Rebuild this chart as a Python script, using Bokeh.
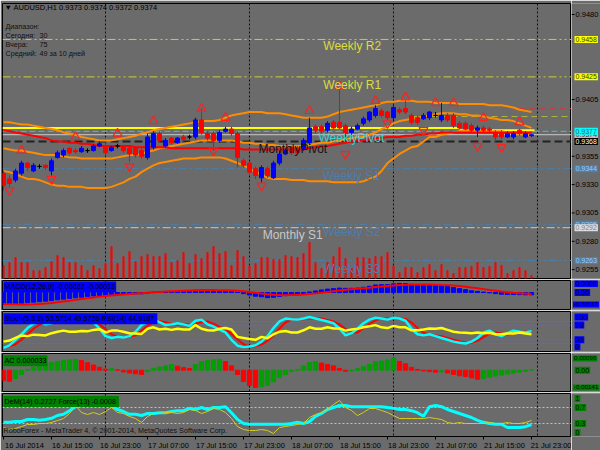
from bokeh.plotting import figure
from bokeh.layouts import column, row
from bokeh.models import Range1d, FixedTicker, Span, Label, ColumnDataSource
from bokeh.embed import file_html
from bokeh.resources import INLINE

FONT = "Liberation Sans"
BG = "#6b6b6b"

# ---------------- data ----------------
time_labels = ["16 Jul 2014", "16 Jul 15:00", "16 Jul 23:00", "17 Jul 07:00", "17 Jul 15:00",
               "17 Jul 23:00", "18 Jul 07:00", "18 Jul 15:00", "18 Jul 23:00", "21 Jul 07:00",
               "21 Jul 15:00", "21 Jul 23:00"]
time_label_bars = [0, 8, 16, 24, 32, 40, 48, 56, 64, 72, 80, 88]
day_start_bars = [17, 41, 65, 89]

open_ = [0.9340, 0.9335, 0.9334, 0.9340, 0.9349, 0.9342, 0.9346, 0.9347, 0.9342, 0.9354,
         0.9356, 0.9362, 0.9360, 0.9359, 0.9360, 0.9360, 0.9364, 0.9364, 0.9360, 0.9364,
         0.9364, 0.9362, 0.9362, 0.9360, 0.9354, 0.9363, 0.9375, 0.9364, 0.9371, 0.9367,
         0.9372, 0.9372, 0.9372, 0.9387, 0.9375, 0.9375, 0.9369, 0.9377, 0.9379, 0.9375,
         0.9351, 0.9349, 0.9344, 0.9336, 0.9344, 0.9336, 0.9349, 0.9357, 0.9363, 0.9362,
         0.9362, 0.9367, 0.9381, 0.9381, 0.9378, 0.9385, 0.9385, 0.9382, 0.9376, 0.9379,
         0.9384, 0.9387, 0.9391, 0.9395, 0.9394, 0.9389, 0.9396, 0.9397, 0.9391, 0.9389,
         0.9388, 0.9389, 0.9391, 0.9387, 0.9391, 0.9391, 0.9384, 0.9384, 0.9382, 0.9378,
         0.9380, 0.9379, 0.9376, 0.9376, 0.9372, 0.9372, 0.9378, 0.9372, 0.9373]
close = [0.9329, 0.9331, 0.9342, 0.9349, 0.9345, 0.9347, 0.9346, 0.9345, 0.9351, 0.9358,
         0.9360, 0.9358, 0.9359, 0.9362, 0.9360, 0.9364, 0.9366, 0.9358, 0.9363, 0.9364,
         0.9360, 0.9357, 0.9356, 0.9355, 0.9372, 0.9375, 0.9369, 0.9369, 0.9367, 0.9371,
         0.9370, 0.9372, 0.9387, 0.9376, 0.9371, 0.9369, 0.9376, 0.9379, 0.9375, 0.9354,
         0.9347, 0.9341, 0.9338, 0.9345, 0.9338, 0.9349, 0.9357, 0.9360, 0.9358, 0.9358,
         0.9369, 0.9380, 0.9378, 0.9377, 0.9384, 0.9380, 0.9380, 0.9375, 0.9379, 0.9382,
         0.9388, 0.9394, 0.9397, 0.9391, 0.9389, 0.9398, 0.9394, 0.9394, 0.9385, 0.9385,
         0.9391, 0.9394, 0.9391, 0.9391, 0.9387, 0.9382, 0.9380, 0.9379, 0.9378, 0.9380,
         0.9378, 0.9378, 0.9372, 0.9372, 0.9375, 0.9375, 0.9375, 0.9375, 0.9374]
high = [0.9342, 0.9338, 0.9344, 0.9351, 0.9350, 0.9349, 0.9348, 0.9348, 0.9353, 0.9360,
        0.9362, 0.9363, 0.9362, 0.9364, 0.9362, 0.9366, 0.9368, 0.9366, 0.9364, 0.9366,
        0.9365, 0.9364, 0.9364, 0.9362, 0.9375, 0.9377, 0.9377, 0.9371, 0.9372, 0.9372,
        0.9374, 0.9374, 0.9389, 0.9397, 0.9377, 0.9377, 0.9378, 0.9381, 0.9381, 0.9377,
        0.9353, 0.9350, 0.9346, 0.9347, 0.9346, 0.9351, 0.9360, 0.9362, 0.9364, 0.9364,
        0.9371, 0.9389, 0.9383, 0.9383, 0.9386, 0.9387, 0.9415, 0.9384, 0.9381, 0.9384,
        0.9390, 0.9395, 0.9400, 0.9397, 0.9395, 0.9401, 0.9398, 0.9404, 0.9393, 0.9391,
        0.9393, 0.9395, 0.9394, 0.9402, 0.9393, 0.9393, 0.9386, 0.9386, 0.9384, 0.9382,
        0.9382, 0.9381, 0.9378, 0.9378, 0.9377, 0.9377, 0.9379, 0.9377, 0.9374]
low = [0.9325, 0.9327, 0.9332, 0.9338, 0.9342, 0.9341, 0.9344, 0.9343, 0.9338, 0.9353,
       0.9354, 0.9356, 0.9357, 0.9358, 0.9358, 0.9359, 0.9363, 0.9356, 0.9359, 0.9362,
       0.9358, 0.9350, 0.9354, 0.9353, 0.9352, 0.9361, 0.9367, 0.9363, 0.9365, 0.9366,
       0.9368, 0.9370, 0.9370, 0.9374, 0.9369, 0.9360, 0.9367, 0.9376, 0.9373, 0.9345,
       0.9345, 0.9339, 0.9335, 0.9332, 0.9336, 0.9335, 0.9347, 0.9356, 0.9356, 0.9357,
       0.9360, 0.9365, 0.9375, 0.9375, 0.9376, 0.9379, 0.9379, 0.9369, 0.9374, 0.9378,
       0.9382, 0.9385, 0.9389, 0.9389, 0.9387, 0.9387, 0.9392, 0.9392, 0.9383, 0.9383,
       0.9387, 0.9387, 0.9389, 0.9385, 0.9385, 0.9380, 0.9379, 0.9378, 0.9376, 0.9372,
       0.9376, 0.9376, 0.9368, 0.9370, 0.9371, 0.9370, 0.9373, 0.9371, 0.9372]
volume = [325, 400, 525, 400, 400, 200, 200, 275, 425, 575,
          525, 400, 400, 325, 200, 325, 250, 375, 800, 375,
          550, 675, 425, 550, 600, 550, 550, 625, 400, 450,
          650, 375, 600, 500, 650, 800, 625, 675, 325, 700,
          550, 325, 375, 525, 525, 475, 475, 575, 550, 525,
          625, 900, 400, 250, 400, 550, 775, 500, 275, 525,
          525, 500, 550, 550, 650, 325, 150, 275, 275, 150,
          275, 350, 200, 350, 200, 125, 275, 275, 300, 400,
          275, 300, 400, 325, 125, 200, 275, 200, 75]
band_upper = [0.9385, 0.9385, 0.9384, 0.9383, 0.9383, 0.9382, 0.9381, 0.9380, 0.9379, 0.9378,
              0.9376, 0.9375, 0.9374, 0.9372, 0.9371, 0.9370, 0.9369, 0.9369, 0.9369, 0.9370,
              0.9371, 0.9372, 0.9373, 0.9375, 0.9376, 0.9378, 0.9379, 0.9380, 0.9381, 0.9382,
              0.9383, 0.9384, 0.9385, 0.9386, 0.9386, 0.9386, 0.9387, 0.9389, 0.9391, 0.9392,
              0.9393, 0.9394, 0.9394, 0.9394, 0.9393, 0.9393, 0.9393, 0.9392, 0.9391, 0.9390,
              0.9389, 0.9389, 0.9389, 0.9389, 0.9390, 0.9392, 0.9394, 0.9395, 0.9396, 0.9397,
              0.9398, 0.9399, 0.9400, 0.9402, 0.9403, 0.9403, 0.9404, 0.9404, 0.9404, 0.9403,
              0.9403, 0.9403, 0.9402, 0.9402, 0.9402, 0.9402, 0.9401, 0.9401, 0.9401, 0.9401,
              0.9401, 0.9400, 0.9400, 0.9400, 0.9399, 0.9398, 0.9396, 0.9395, 0.9394]
band_middle = [0.9362, 0.9361, 0.9360, 0.9360, 0.9359, 0.9358, 0.9357, 0.9356, 0.9356, 0.9356,
               0.9355, 0.9354, 0.9354, 0.9353, 0.9353, 0.9353, 0.9353, 0.9353, 0.9353, 0.9354,
               0.9355, 0.9356, 0.9356, 0.9357, 0.9359, 0.9360, 0.9362, 0.9363, 0.9364, 0.9365,
               0.9366, 0.9367, 0.9368, 0.9369, 0.9369, 0.9369, 0.9369, 0.9369, 0.9369, 0.9368,
               0.9367, 0.9367, 0.9366, 0.9366, 0.9365, 0.9365, 0.9364, 0.9364, 0.9364, 0.9364,
               0.9364, 0.9365, 0.9366, 0.9367, 0.9367, 0.9368, 0.9369, 0.9370, 0.9371, 0.9372,
               0.9372, 0.9374, 0.9376, 0.9379, 0.9381, 0.9384, 0.9386, 0.9387, 0.9388, 0.9389,
               0.9390, 0.9391, 0.9392, 0.9393, 0.9393, 0.9393, 0.9392, 0.9392, 0.9391, 0.9391,
               0.9390, 0.9389, 0.9388, 0.9387, 0.9387, 0.9386, 0.9384, 0.9382, 0.9380]
band_lower = [0.9342, 0.9341, 0.9339, 0.9337, 0.9335, 0.9335, 0.9334, 0.9332, 0.9330, 0.9329,
              0.9329, 0.9328, 0.9328, 0.9328, 0.9327, 0.9327, 0.9327, 0.9327, 0.9328, 0.9330,
              0.9332, 0.9335, 0.9337, 0.9341, 0.9344, 0.9347, 0.9349, 0.9350, 0.9351, 0.9352,
              0.9353, 0.9353, 0.9353, 0.9354, 0.9354, 0.9354, 0.9354, 0.9353, 0.9351, 0.9349,
              0.9347, 0.9344, 0.9341, 0.9339, 0.9336, 0.9335, 0.9335, 0.9335, 0.9334, 0.9334,
              0.9334, 0.9333, 0.9333, 0.9333, 0.9333, 0.9332, 0.9332, 0.9332, 0.9332, 0.9332,
              0.9333, 0.9335, 0.9337, 0.9342, 0.9349, 0.9353, 0.9357, 0.9360, 0.9363, 0.9364,
              0.9368, 0.9372, 0.9372, 0.9374, 0.9375, 0.9376, 0.9377, 0.9378, 0.9378, 0.9378,
              0.9378, 0.9377, 0.9377, 0.9377, 0.9376, 0.9375, 0.9375, 0.9374, 0.9373]
ma_red = [0.9378, 0.9377, 0.9376, 0.9375, 0.9374, 0.9373, 0.9372, 0.9371, 0.9369, 0.9368,
          0.9368, 0.9367, 0.9367, 0.9366, 0.9366, 0.9365, 0.9364, 0.9364, 0.9364, 0.9364,
          0.9364, 0.9364, 0.9363, 0.9363, 0.9363, 0.9363, 0.9363, 0.9363, 0.9362, 0.9362,
          0.9362, 0.9362, 0.9362, 0.9362, 0.9362, 0.9362, 0.9362, 0.9362, 0.9362, 0.9362,
          0.9361, 0.9361, 0.9361, 0.9361, 0.9361, 0.9361, 0.9361, 0.9361, 0.9361, 0.9361,
          0.9361, 0.9362, 0.9363, 0.9364, 0.9364, 0.9365, 0.9366, 0.9367, 0.9368, 0.9369,
          0.9369, 0.9370, 0.9371, 0.9371, 0.9372, 0.9372, 0.9372, 0.9373, 0.9373, 0.9374,
          0.9374, 0.9375, 0.9375, 0.9376, 0.9376, 0.9376, 0.9376, 0.9376, 0.9376, 0.9376,
          0.9376, 0.9376, 0.9376, 0.9376, 0.9376, 0.9376, 0.9376, 0.9376, 0.9376]
fractal_up_bar = [3, 12, 19, 25, 33, 37, 51, 56, 62, 67, 72, 75, 80, 86]
fractal_up_price = [0.9360, 0.9372, 0.9375, 0.9386, 0.9397, 0.9389, 0.9395, 0.9417, 0.9404,
                    0.9407, 0.9402, 0.9402, 0.9389, 0.9385]
fractal_dn_bar = [1, 8, 21, 35, 43, 57, 64, 70, 79, 83]
fractal_dn_price = [0.9325, 0.9335, 0.9346, 0.9360, 0.9329, 0.9357, 0.9384, 0.9378, 0.9364, 0.9363]

level_price = [0.9458, 0.9425, 0.9377, 0.9374, 0.9368, 0.9344, 0.9295, 0.9292, 0.9263]
part_price = [0.9397, 0.9390, 0.9380, 0.9378]
part_from = [86, 68, -0.17, 76]
part_to = [94.67, 94.67, 76, 88.5]
price_ticks = [0.9255, 0.9280, 0.9305, 0.9330, 0.9355, 0.9405, 0.9480]

macd_main = [-0.00115, -0.00112, -0.00110, -0.00105, -0.00100, -0.00095,
             -0.00090, -0.00085, -0.00080, -0.00072, -0.00065, -0.00058,
             -0.00052, -0.00046, -0.00040, -0.00034, -0.00028, -0.00024,
             -0.00020, -0.00016, -0.00013, -0.00012, -0.00012, -0.00012,
             -0.00005, 0.00004, 0.00006, 0.00008, 0.00009, 0.00010,
             0.00011, 0.00012, 0.00022, 0.00025, 0.00022, 0.00018,
             0.00018, 0.00018, 0.00016, 0.00002, -0.00010, -0.00024,
             -0.00036, -0.00042, -0.00050, -0.00046, -0.00038, -0.00030,
             -0.00024, -0.00018, -0.00008, 0.00006, 0.00016, 0.00026,
             0.00034, 0.00039, 0.00044, 0.00042, 0.00042, 0.00044,
             0.00052, 0.00062, 0.00075, 0.00078, 0.00078, 0.00086,
             0.00090, 0.00089, 0.00081, 0.00073, 0.00070, 0.00070,
             0.00068, 0.00065, 0.00060, 0.00049, 0.00039, 0.00029,
             0.00018, 0.00012, 0.00005, -0.00002, -0.00010, -0.00016,
             -0.00018, -0.00020, -0.00020, -0.00022, -0.00022]
macd_signal = [-0.00112, -0.00114, -0.00116, -0.00117, -0.00117, -0.00115,
               -0.00112, -0.00108, -0.00103, -0.00096, -0.00088, -0.00080,
               -0.00072, -0.00064, -0.00056, -0.00048, -0.00040, -0.00034,
               -0.00028, -0.00023, -0.00018, -0.00014, -0.00010, -0.00006,
               -0.00002, 0.00002, 0.00006, 0.00010, 0.00013, 0.00016,
               0.00018, 0.00020, 0.00022, 0.00024, 0.00025, 0.00025,
               0.00024, 0.00023, 0.00021, 0.00018, 0.00013, 0.00006,
               -0.00002, -0.00010, -0.00017, -0.00022, -0.00025, -0.00026,
               -0.00025, -0.00023, -0.00019, -0.00014, -0.00008, -0.00002,
               0.00005, 0.00013, 0.00021, 0.00027, 0.00033, 0.00038,
               0.00043, 0.00048, 0.00055, 0.00060, 0.00065, 0.00070,
               0.00074, 0.00078, 0.00079, 0.00080, 0.00080, 0.00079,
               0.00078, 0.00075, 0.00073, 0.00069, 0.00064, 0.00057,
               0.00049, 0.00042, 0.00034, 0.00026, 0.00018, 0.00010,
               0.00004, -0.00002, -0.00006, -0.00010, -0.00013]
stoch_main = [8, 15, 30, 45, 62, 74, 78, 72, 75,
              80, 85, 82, 80, 78, 80, 78, 60, 40,
              35, 38, 36, 40, 52, 70, 80, 85, 78,
              70, 72, 75, 72, 68, 82, 85, 72, 66,
              58, 50, 30, 14, 10, 12, 15, 25, 40,
              62, 80, 88, 86, 85, 88, 92, 88, 84,
              80, 75, 60, 42, 48, 60, 75, 85, 90,
              88, 85, 90, 88, 82, 60, 45, 42, 45,
              40, 35, 30, 25, 22, 20, 25, 35, 50,
              55, 45, 40, 48, 55, 52, 50, 53.5714]
stoch_signal = [12, 12, 18, 30, 45, 60, 71, 75, 75,
                76, 80, 82, 82, 80, 79, 79, 72, 59,
                45, 38, 36, 38, 42, 54, 68, 78, 81,
                78, 73, 72, 73, 72, 74, 78, 80, 74,
                65, 58, 46, 31, 18, 12, 12, 17, 27,
                42, 61, 77, 85, 86, 86, 88, 89, 88,
                84, 80, 72, 59, 50, 50, 61, 73, 83,
                88, 88, 88, 88, 87, 77, 62, 49, 44,
                42, 40, 35, 30, 26, 22, 22, 27, 37,
                47, 50, 47, 44, 48, 51, 52, 49.6726]
rsi = [25, 28, 35, 42, 40, 44, 43, 42, 48,
       52, 55, 52, 52, 54, 53, 57, 59, 50,
       55, 55, 52, 48, 47, 46, 60, 64, 58,
       60, 57, 60, 58, 58, 70, 60, 56, 55,
       60, 62, 58, 38, 35, 32, 30, 38, 34,
       45, 52, 54, 50, 50, 56, 64, 60, 60,
       64, 61, 61, 55, 58, 60, 64, 67, 70,
       64, 62, 68, 64, 64, 56, 56, 58, 61,
       60, 62, 57, 52, 50, 49, 48, 50, 48,
       49, 45, 45, 47, 47, 50, 47, 44.9187]
ac = [-0.00085, -0.00090, -0.00068, -0.00035, 0.00006, 0.00023, 0.00040, 0.00052, 0.00063, 0.00072,
      0.00080, 0.00084, 0.00088, 0.00078, 0.00060, 0.00042, 0.00024, 0.00009, 0.00012, 0.00002,
      -0.00014, -0.00023, -0.00030, -0.00035, -0.00012, 0.00014, 0.00026, 0.00035, 0.00046, 0.00033,
      0.00021, 0.00014, 0.00046, 0.00070, 0.00078, 0.00084, 0.00088, 0.00070, 0.00035, -0.00035,
      -0.00092, -0.00125, -0.00141, -0.00136, -0.00125, -0.00095, -0.00062, -0.00035, -0.00012, 0.00006,
      0.00035, 0.00063, 0.00069, 0.00058, 0.00046, 0.00035, 0.00014, -0.00009, -0.00006, 0.00012,
      0.00029, 0.00046, 0.00069, 0.00075, 0.00083, 0.00096, 0.00072, 0.00052, 0.00023, 0.00006,
      -0.00006, -0.00012, -0.00017, -0.00014, -0.00023, -0.00035, -0.00046, -0.00052, -0.00063, -0.00075,
      -0.00068, -0.00058, -0.00048, -0.00040, -0.00032, -0.00024, -0.00016, -0.00008, 0.000033]
dem = [0.33, 0.33, 0.35, 0.35, 0.40, 0.40, 0.38, 0.40, 0.43, 0.50,
       0.53, 0.62, 0.72, 0.75, 0.75, 0.75, 0.75, 0.75, 0.75, 0.65,
       0.60, 0.53, 0.53, 0.50, 0.55, 0.55, 0.57, 0.57, 0.60, 0.62,
       0.62, 0.68, 0.65, 0.70, 0.65, 0.70, 0.70, 0.72, 0.57, 0.40,
       0.30, 0.28, 0.28, 0.28, 0.28, 0.28, 0.28, 0.28, 0.30, 0.33,
       0.30, 0.35, 0.48, 0.55, 0.65, 0.70, 0.75, 0.75, 0.72, 0.72,
       0.72, 0.72, 0.72, 0.72, 0.70, 0.68, 0.65, 0.65, 0.62, 0.57,
       0.48, 0.72, 0.75, 0.72, 0.65, 0.60, 0.55, 0.50, 0.45, 0.38,
       0.33, 0.30, 0.28, 0.28, 0.20, 0.20, 0.20, 0.22, 0.2727]
force = [-0.0015, -0.0017, -0.0016, -0.0014, -0.0012, -0.0012, -0.0011, -0.0011, -0.0010, -0.0008,
         -0.0006, -0.0001, 0.0007, 0.0000, -0.0002, 0.0000, -0.0002, 0.0001, 0.0005, 0.0000,
         -0.0001, -0.0004, -0.0006, -0.0010, -0.0004, -0.0001, -0.0001, 0.0000, 0.0000, -0.0001,
         0.0000, 0.0003, 0.0002, -0.0001, 0.0001, 0.0004, 0.0003, 0.0000, -0.0006, -0.0014,
         -0.0017, -0.0018, -0.0018, -0.0017, -0.0018, -0.0021, -0.0015, -0.0014, -0.0013, -0.0012,
         -0.0011, -0.0005, -0.0002, 0.0000, 0.0003, 0.0008, 0.0012, 0.0005, 0.0002, -0.0003,
         0.0000, 0.0004, 0.0004, 0.0002, 0.0000, -0.0003, -0.0006, -0.0006, -0.0006, -0.0006,
         -0.0006, -0.0005, -0.0006, -0.0007, -0.0010, -0.0011, -0.0010, -0.0011, -0.0011, -0.0011,
         -0.0011, -0.0010, -0.0011, -0.0011, -0.0010, -0.0011, -0.0011, -0.0010, -0.0008]

n = len(close)
idx = list(range(n))

X_RANGE = Range1d(-0.1667, 94.667)
FRAME_W = 569
STRIP_W = 29


def panel(frame_h, yr, top, bottom, x_axis=False):
    p = figure(frame_width=FRAME_W, frame_height=frame_h, x_range=X_RANGE, y_range=yr,
               output_backend="svg", toolbar_location=None,
               x_axis_location="below" if x_axis else None, y_axis_location=None,
               min_border_left=2, min_border_right=0, min_border_top=top, min_border_bottom=bottom,
               background_fill_color=BG, border_fill_color=BG,
               outline_line_color="#000000", outline_line_width=1)
    p.grid.visible = False
    for d in day_start_bars:
        p.add_layout(Span(location=d, dimension="height", line_color="#111111",
                          line_dash="2 2", line_width=1, level="underlay"))
    return p


def strip(frame_h, yr, top, bottom):
    s = figure(frame_width=STRIP_W, frame_height=frame_h, x_range=Range1d(0, STRIP_W), y_range=yr,
               output_backend="svg", toolbar_location=None,
               x_axis_location=None, y_axis_location=None,
               min_border_left=0, min_border_right=0, min_border_top=top, min_border_bottom=bottom,
               background_fill_color=BG, border_fill_color=BG, outline_line_color=None)
    s.grid.visible = False
    return s


def box(s, y, text, bg, fg, y_off=0):
    long_txt = len(text) >= 7
    s.add_layout(Label(x=1.5 if long_txt else 3, y=y, y_offset=y_off, text=text, text_font=FONT,
                       text_font_size="6.2px" if long_txt else "7px", text_color=fg,
                       text_align="left", text_baseline="middle",
                       background_fill_color=bg, padding=1))


def txt(p, x, y, text, color, size="7.2px", bg=None, baseline="middle"):
    kw = dict(background_fill_color=bg, padding=1) if bg else {}
    p.add_layout(Label(x=x, y=y, text=text, text_font=FONT, text_font_size=size,
                       text_color=color, text_align="left", text_baseline=baseline, **kw))


# ---------------- main price panel ----------------
yr_main = Range1d(0.92472, 0.94897)
pm = panel(275, yr_main, 3, 1)
sm = strip(275, yr_main, 3, 1)

pm.extra_y_ranges = {"vol": Range1d(0, 6875)}
pm.vbar(x=idx, top=volume, width=0.18, y_range_name="vol", color="#ff0000")

level_style = [("#cccc33", "8 3 2 3 2 3", 1), ("#cccc33", "8 3 2 3 2 3", 1),
               ("#3cc8c8", "6 3", 1), ("#c8c8c8", "solid", 1), ("#222222", "8 4", 2),
               ("#4682b4", "8 3 2 3", 1), ("#4682b4", "8 3 2 3 2 3", 1),
               ("#c8c8c8", "8 3 2 3", 1), ("#4682b4", "8 3 2 3 2 3", 1)]
for lv, (col, dash, w) in zip(level_price, level_style):
    pm.add_layout(Span(location=lv, dimension="width", line_color=col, line_dash=dash,
                       line_width=w, level="underlay"))

part_style = [("#c83c3c", "6 4", 1), ("#b4b43c", "6 4", 1), ("#ffff00", "solid", 2), ("#ffff00", "solid", 2)]
for pr, a, b, (col, dash, w) in zip(part_price, part_from, part_to, part_style):
    pm.line(x=[a, b], y=[pr, pr], line_color=col, line_dash=dash, line_width=w)

pm.line(idx, band_upper, line_color="#ff8c00", line_width=2)
pm.line(idx, band_middle, line_color="#ff8c00", line_width=2)
pm.line(idx, band_lower, line_color="#ff8c00", line_width=2)
pm.line(idx, ma_red, line_color="#ff0000", line_width=2)

cols = ["#0000ff" if c > o else ("#ff0000" if c < o else "#000000") for o, c in zip(open_, close)]
src = ColumnDataSource(dict(x=idx, h=high, l=low,
                            top=[max(o, c) for o, c in zip(open_, close)],
                            bottom=[min(o, c) for o, c in zip(open_, close)], color=cols))
pm.segment(x0="x", y0="l", x1="x", y1="h", line_color="color", line_width=1, source=src)
pm.vbar(x="x", width=0.65, top="top", bottom="bottom", fill_color="color", line_color="color", source=src)

pm.scatter(fractal_up_bar, fractal_up_price, marker="triangle", size=9, line_color="#ff2020",
           fill_color=None, line_width=1.2)
pm.scatter(fractal_dn_bar, fractal_dn_price, marker="inverted_triangle", size=9, line_color="#ff2020",
           fill_color=None, line_width=1.2)

txt(pm, 53.3, 0.9452, "Weekly R2", "#dcdc3c", "12px")
txt(pm, 53.3, 0.9418, "Weekly R1", "#dcdc3c", "12px")
txt(pm, 52.5, 0.9371, "WeeklyPivot", "#3cd2d2", "12px")
txt(pm, 42.5, 0.9361, "MonthlyPivot", "#141414", "12px")
txt(pm, 53.2, 0.9338, "Weekly S1", "#4a7eb0", "12px")
txt(pm, 43.2, 0.9286, "Monthly S1", "#c8c8c8", "12px")
txt(pm, 53.3, 0.9288, "Weekly S2", "#4a7eb0", "12px")
txt(pm, 53.3, 0.9256, "Weekly S3", "#4a7eb0", "12px")

txt(pm, 0.17, 0.94862, "\u25bc  AUDUSD,H1  0.9373 0.9374 0.9372 0.9374", "#000000", "7.5px")
txt(pm, 0.33, 0.94694, "Диапазон:", "#101010")
txt(pm, 0.33, 0.94615, "Сегодня:", "#101010")
txt(pm, 6.0, 0.94615, "30", "#101010")
txt(pm, 0.33, 0.94535, "Вчера:", "#101010")
txt(pm, 6.0, 0.94535, "75", "#101010")
txt(pm, 0.33, 0.94456, "Средний:", "#101010")
txt(pm, 6.0, 0.94456, "49 за 10 дней", "#101010")

# price scale strip
sm.segment(x0=0, x1=3, y0=price_ticks, y1=price_ticks, line_color="#000000", line_width=1)
for t in price_ticks:
    sm.add_layout(Label(x=4, y=t, text=f"{t:.4f}", text_font=FONT, text_font_size="7.5px",
                        text_color="#000000", text_align="left", text_baseline="middle"))
box(sm, 0.9458, "0.9458", "#ffff00", "#404000")
box(sm, 0.9425, "0.9425", "#ffff00", "#404000")
box(sm, 0.9374, "0.9374", "#c0c0c0", "#404040")
box(sm, 0.9377, "0.9377", "#00ffff", "#306060")
box(sm, 0.9368, "0.9368", "#000000", "#ffffff")
box(sm, 0.9344, "0.9344", "#4682b4", "#a8c8e8")
box(sm, 0.9295, "0.9295", "#4682b4", "#a8c8e8")
box(sm, 0.9292, "0.9292", "#dcdcdc", "#808080")
box(sm, 0.9263, "0.9263", "#4682b4", "#a8c8e8")

# ---------------- MACD ----------------
yr_macd = Range1d(-0.00167, 0.00119)
pmacd = panel(29, yr_macd, 1, 1)
smacd = strip(29, yr_macd, 1, 1)
pmacd.vbar(x=idx, top=macd_main, width=0.7, color="#0000ff")
pmacd.line(idx, macd_signal, line_color="#ff0000", line_width=2)
txt(pmacd, 0.0, 0.00110, "MACD(12,26,9) -0.00022 -0.00013", "#000000", "7.2px", bg="#0000ff", baseline="top")
box(smacd, 0.0009, "0.0009", "#0000ff", "#000030")
box(smacd, 0.0, "0.00", "#0000ff", "#000030")
box(smacd, -0.00117, "-0.00117", "#0000ff", "#000030")

# ---------------- Stoch / RSI ----------------
yr_st = Range1d(-1.9, 107.1)
pst = panel(40, yr_st, 1, 1)
sst = strip(40, yr_st, 1, 1)
for lv in [80, 70, 30, 20]:
    pst.add_layout(Span(location=lv, dimension="width", line_color="#6464ff", line_dash="1 2",
                        line_width=1, level="underlay"))
pst.line(idx, stoch_signal, line_color="#ff0000", line_width=2)
pst.line(idx, stoch_main, line_color="#00ffff", line_width=2.5)
pst.line(idx, rsi, line_color="#ffff00", line_width=2.5)
txt(pst, 0.0, 102, "Stoch(5,3,3) 53.5714 49.6726  RSI(14) 44.9187", "#000000", "7.2px", bg="#0000ff", baseline="top")
box(sst, 100, "100", "#0000ff", "#000030", y_off=-3)
box(sst, 70, "70", "#0000ff", "#000030")
box(sst, 30, "30", "#0000ff", "#000030")
box(sst, 0, "0", "#0000ff", "#000030", y_off=4)

# ---------------- AC ----------------
yr_ac = Range1d(-0.00174, 0.00136)
pac = panel(38, yr_ac, 1, 1)
sac = strip(38, yr_ac, 1, 1)
ac_cols = ["#ff0000"] + ["#00a000" if ac[i] > ac[i - 1] else "#ff0000" for i in range(1, n)]
pac.vbar(x=idx, top=ac, width=0.7, color=ac_cols)
txt(pac, 0.0, 0.00121, "AC 0.000033", "#000000", "7.2px", bg="#008000", baseline="top")
box(sac, 0.00096, "0.00096", "#008000", "#001000")
box(sac, 0.0, "0.00", "#008000", "#001000")
box(sac, -0.00141, "-0.00141", "#008000", "#001000")

# ---------------- DeM / Force ----------------
yr_dm = Range1d(-0.025, 1.05)
pdm = panel(43, yr_dm, 1, 14, x_axis=True)
sdm = strip(43, yr_dm, 1, 14)
pdm.extra_y_ranges = {"force": Range1d(-0.0024, 0.0019)}
for lv in [0.7, 0.3]:
    pdm.add_layout(Span(location=lv, dimension="width", line_color="#a8d0a8", line_dash="2 2",
                        line_width=1, level="underlay"))
pdm.line(idx, dem, line_color="#00ffff", line_width=3)
pdm.line(idx, force, y_range_name="force", line_color="#d4cc20", line_width=1)
txt(pdm, 0.0, 0.99, "DeM(14) 0.2727  Force(13) -0.0008", "#000000", "7.2px", bg="#008000", baseline="top")
txt(pdm, 0.0, 0.12, "RoboForex - MetaTrader 4, \u00a9 2001-2014, MetaQuotes Software Corp.", "#101010", "7.2px")
box(sdm, 1.0, "1", "#008000", "#001000", y_off=-3)
box(sdm, 0.7, "0.7", "#008000", "#001000")
box(sdm, 0.3, "0.3", "#008000", "#001000")
box(sdm, 0.0, "0", "#008000", "#001000", y_off=3)

xa = pdm.xaxis[0]
centers = [b + 3.5 for b in time_label_bars]
xa.ticker = FixedTicker(ticks=centers, minor_ticks=time_label_bars)
xa.major_label_overrides = {c: t for c, t in zip(centers, time_labels)}
xa.major_tick_out = 0
xa.major_tick_in = 0
xa.minor_tick_out = 3
xa.minor_tick_in = 0
xa.minor_tick_line_color = "black"
xa.axis_line_color = "black"
xa.major_label_standoff = 1
xa.major_label_text_font = FONT
xa.major_label_text_font_size = "7.5px"
xa.major_label_text_color = "black"

layout = column(row(pm, sm), row(pmacd, smacd), row(pst, sst), row(pac, sac), row(pdm, sdm))
open("out.html", "w").write(file_html(layout, INLINE))
